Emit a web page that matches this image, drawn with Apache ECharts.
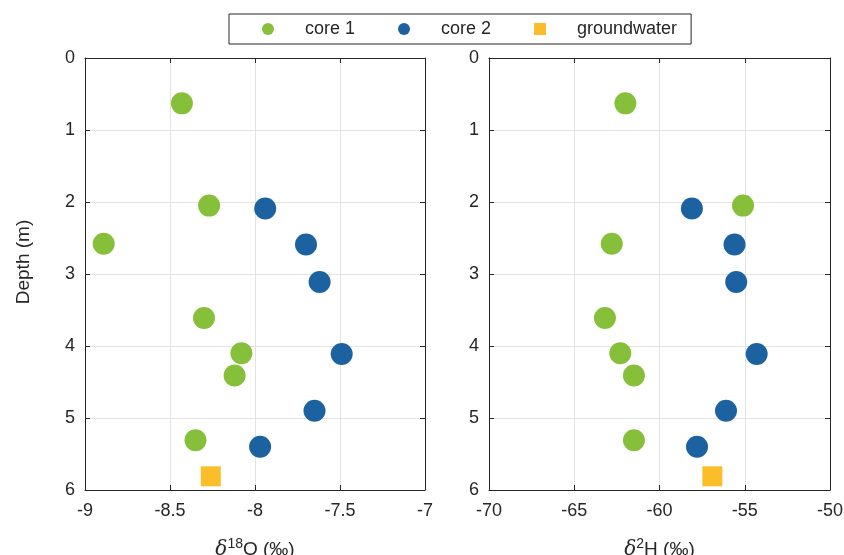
<!DOCTYPE html>
<html>
<head>
<meta charset="utf-8">
<script src="https://cdn.jsdelivr.net/npm/echarts@6/dist/echarts.min.js"></script>
<style>
  html, body { margin: 0; padding: 0; background: #fff; }
  #chart { width: 844px; height: 555px; }
</style>
</head>
<body>
<div id="chart"></div>
<script>
// Depth profiles of stable isotopes for two cores and groundwater
const core1Depth = [0.63, 2.05, 2.58, 3.61, 4.10, 4.41, 5.31];
const core1O18   = [-8.43, -8.27, -8.89, -8.30, -8.08, -8.12, -8.35];
const core1H2    = [-62.0, -55.1, -62.8, -63.2, -62.3, -61.5, -61.5];

const core2Depth = [2.09, 2.59, 3.11, 4.11, 4.90, 5.40];
const core2O18   = [-7.94, -7.70, -7.62, -7.49, -7.65, -7.97];
const core2H2    = [-58.1, -55.6, -55.5, -54.3, -56.1, -57.8];

const gwDepth = [5.81];
const gwO18   = [-8.26];
const gwH2    = [-56.9];

const seriesNames = ['core 1', 'core 2', 'groundwater'];
const depthTicks = [0, 1, 2, 3, 4, 5, 6];

const FONT = 'Liberation Sans, Arial, Helvetica, sans-serif';
const TXT = '#262626';
const GREEN = '#86c03b';
const BLUE = '#1d62a0';
const YELLOW = '#fbbd2a';

function pairs(xs, ys) { return xs.map((x, i) => [x, ys[i]]); }

function bottomX(gridIndex, min, max, interval, nameRich) {
  return {
    gridIndex, type: 'value', position: 'bottom', min, max, interval,
    name: nameRich, nameLocation: 'middle', nameGap: 47,
    nameTextStyle: {
      color: TXT, fontFamily: FONT, fontSize: 19,
      rich: {
        it: { fontSize: 20, fontStyle: 'italic', fontFamily: 'DejaVu Serif, serif', color: TXT },
        sup: { fontSize: 14, color: TXT, fontFamily: FONT, padding: [0, 0, 12, 0] },
        n: { fontSize: 19, color: TXT, fontFamily: FONT }
      }
    },
    axisLine: { show: true, onZero: false, lineStyle: { color: '#262626', width: 1 } },
    axisTick: { show: true, inside: true, length: 5, lineStyle: { color: '#262626' } },
    axisLabel: { color: TXT, fontFamily: FONT, fontSize: 18, margin: 12 },
    splitLine: { show: true, lineStyle: { color: '#e3e3e3', width: 1 } }
  };
}
function topX(gridIndex, min, max, interval) {
  return {
    gridIndex, type: 'value', position: 'top', min, max, interval,
    axisLine: { show: true, onZero: false, lineStyle: { color: '#262626', width: 1 } },
    axisTick: { show: true, inside: true, length: 5, lineStyle: { color: '#262626' } },
    axisLabel: { show: false },
    splitLine: { show: false }
  };
}
function leftY(gridIndex, withName) {
  const ax = {
    gridIndex, type: 'value', position: 'left', inverse: true, min: 0, max: 6, interval: 1,
    axisLine: { show: true, onZero: false, lineStyle: { color: '#262626', width: 1 } },
    axisTick: { show: true, inside: true, length: 5, lineStyle: { color: '#262626' } },
    axisLabel: { color: TXT, fontFamily: FONT, fontSize: 18, margin: 10,
      formatter: v => depthTicks.includes(v) ? String(v) : '' },
    splitLine: { show: true, lineStyle: { color: '#e3e3e3', width: 1 } }
  };
  if (withName) {
    ax.name = 'Depth (m)';
    ax.nameLocation = 'middle';
    ax.nameGap = 52;
    ax.nameTextStyle = { color: TXT, fontFamily: FONT, fontSize: 19, padding: [0, 0, 0, 24] };
  }
  return ax;
}
function rightY(gridIndex) {
  return {
    gridIndex, type: 'value', position: 'right', inverse: true, min: 0, max: 6, interval: 1,
    axisLine: { show: true, onZero: false, lineStyle: { color: '#262626', width: 1 } },
    axisTick: { show: true, inside: true, length: 5, lineStyle: { color: '#262626' } },
    axisLabel: { show: false },
    splitLine: { show: false }
  };
}

function scatter(name, xIdx, yIdx, data, color, symbol, size) {
  return {
    name, type: 'scatter', xAxisIndex: xIdx, yAxisIndex: yIdx,
    data, symbol, symbolSize: size,
    itemStyle: { color, opacity: 1 },
    emphasis: { disabled: true }
  };
}

const chart = echarts.init(document.getElementById('chart'), null, { renderer: 'canvas' });
chart.setOption({
  animation: false,
  backgroundColor: '#fff',
  legend: {
    data: [
      { name: seriesNames[0], icon: 'circle' },
      { name: seriesNames[1], icon: 'circle' },
      { name: seriesNames[2], icon: 'rect' }
    ],
    left: 229, top: 14,
    orient: 'horizontal',
    itemWidth: 12, itemHeight: 12, itemGap: 43,
    padding: [6, 14, 6, 33],
    borderColor: '#262626', borderWidth: 1, backgroundColor: '#fff',
    textStyle: { color: TXT, fontFamily: FONT, fontSize: 18, padding: [0, 0, 0, 26] },
    selectedMode: false
  },
  grid: [
    { left: 85, top: 58, width: 340, height: 432, containLabel: false, outerBoundsMode: 'none' },
    { left: 489, top: 58, width: 341, height: 432, containLabel: false, outerBoundsMode: 'none' }
  ],
  xAxis: [
    bottomX(0, -9, -7, 0.5, '{it|δ}{sup|18}{n|O (‰)}'),
    topX(0, -9, -7, 0.5),
    bottomX(1, -70, -50, 5, '{it|δ}{sup|2}{n|H (‰)}'),
    topX(1, -70, -50, 5)
  ],
  yAxis: [
    leftY(0, true),
    rightY(0),
    leftY(1, false),
    rightY(1)
  ],
  series: [
    scatter(seriesNames[0], 0, 0, pairs(core1O18, core1Depth), GREEN, 'circle', 22),
    scatter(seriesNames[1], 0, 0, pairs(core2O18, core2Depth), BLUE, 'circle', 22),
    scatter(seriesNames[2], 0, 0, pairs(gwO18, gwDepth), YELLOW, 'rect', 20),
    scatter(seriesNames[0], 2, 2, pairs(core1H2, core1Depth), GREEN, 'circle', 22),
    scatter(seriesNames[1], 2, 2, pairs(core2H2, core2Depth), BLUE, 'circle', 22),
    scatter(seriesNames[2], 2, 2, pairs(gwH2, gwDepth), YELLOW, 'rect', 20)
  ]
});
</script>
</body>
</html>
